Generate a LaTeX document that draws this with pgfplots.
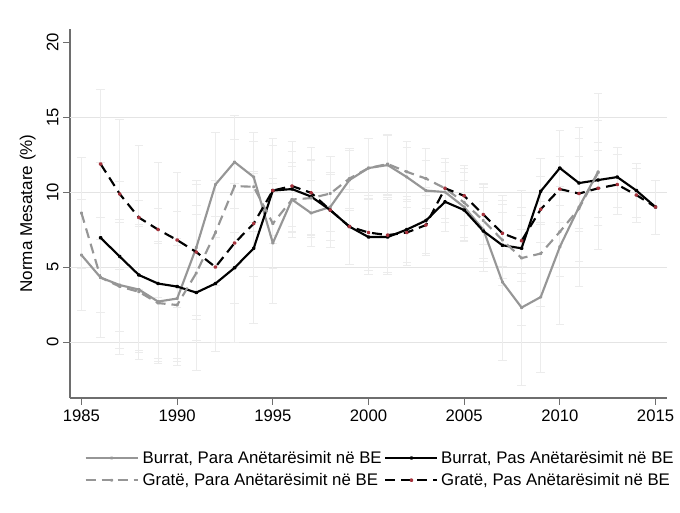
\documentclass[border=0pt]{standalone}
\usepackage{pgfplots}
\usepackage{pgfplotstable}
\pgfplotsset{compat=1.18}
\usepackage{fontspec}
\setmainfont{Liberation Sans}
\definecolor{lg}{RGB}{150,150,150}
\definecolor{eb}{RGB}{236,236,236}
\definecolor{gridc}{RGB}{228,228,228}
\definecolor{mk}{RGB}{165,50,60}
\definecolor{axc}{RGB}{110,110,110}

% Burrat, Para
\pgfplotstableread{
x y e
1985 5.8 3.7
1986 4.3 4.0
1987 3.8 4.2
1988 3.5 4.2
1989 2.7 4.0
1990 2.9 4.0
1991 6.3 4.5
1992 10.5 3.5
1993 12.0 3.1
1994 11.0 3.0
1995 6.6 4.0
1996 9.5 2.2
1997 8.6 2.2
1998 9.0 2.2
1999 10.8 2.0
2000 11.6 2.0
2001 11.8 2.0
2002 11.0 2.0
2003 10.1 2.0
2004 10.0 2.0
2005 9.0 2.3
2006 7.5 2.8
2007 4.0 5.2
2008 2.3 5.2
2009 3.0 5.0
2010 6.35 5.2
2011 9.0 5.3
2012 11.35 5.2
}\bpara
% Burrat, Pas
\pgfplotstableread{
x y e
1986 6.95 5.0
1987 5.7 5.0
1988 4.47 5.0
1989 3.9 5.0
1990 3.7 5.0
1991 3.3 5.2
1992 3.9 4.5
1993 4.95 5.0
1994 6.25 5.0
1995 10.1 3.5
1996 10.2 2.5
1997 9.7 2.5
1998 8.8 2.5
1999 7.7 2.5
2000 7.0 2.5
2001 7.0 2.5
2002 7.5 2.2
2003 8.1 2.2
2004 9.35 2.0
2005 8.8 2.0
2006 7.4 2.0
2007 6.45 2.2
2008 6.25 2.2
2009 10.05 2.2
2010 11.6 2.5
2011 10.6 3.0
2012 10.8 2.5
2013 11.0 2.0
2014 10.1 1.8
2015 9.0 1.8
}\bpas
% Grate, Para
\pgfplotstableread{
x y e
1985 8.6 3.7
1986 4.3 4.0
1987 3.7 4.5
1988 3.35 4.5
1989 2.6 4.0
1990 2.47 4.0
1991 4.6 4.5
1992 7.3 3.5
1993 10.4 3.1
1994 10.35 3.0
1995 7.9 3.0
1996 9.5 2.5
1997 9.6 2.5
1998 9.9 2.5
1999 10.9 2.0
2000 11.6 2.0
2001 11.87 2.0
2002 11.35 2.0
2003 10.9 2.0
2004 10.25 2.0
2005 9.3 2.3
2006 8.1 2.5
2007 6.8 3.0
2008 5.6 4.5
2009 5.9 3.5
2010 7.35 3.0
2011 8.9 3.5
2012 11.3 3.5
}\gpara
% Grate, Pas
\pgfplotstableread{
x y e
1986 11.87 5.0
1987 9.87 5.0
1988 8.3 4.8
1989 7.5 4.5
1990 6.8 4.5
1991 6.0 4.5
1992 5.0 5.0
1993 6.6 4.0
1994 7.9 3.5
1995 10.1 3.0
1996 10.4 3.0
1997 9.95 3.0
1998 8.8 2.5
1999 7.7 2.5
2000 7.3 2.5
2001 7.13 2.5
2002 7.3 2.2
2003 7.8 2.0
2004 10.25 2.0
2005 9.75 2.0
2006 8.5 2.0
2007 7.25 2.2
2008 6.75 2.2
2009 8.85 2.2
2010 10.2 2.2
2011 9.9 2.5
2012 10.25 2.5
2013 10.5 2.0
2014 9.8 1.8
2015 9.0 1.8
}\gpas

\pgfplotsset{
  cistyle/.style={draw=none, forget plot,
    error bars/.cd, y dir=both, y explicit,
    error bar style={draw=eb, line width=0.7pt},
    error mark options={draw=eb, rotate=90, mark size=3.2pt, line width=0.7pt}}
}

\begin{document}
\begin{tikzpicture}
\useasboundingbox (-52.5pt,-85.5pt) rectangle (457.5pt,298.5pt);
\begin{axis}[
  at={(0,0)}, anchor=south west,
  scale only axis, width=447.75pt, height=276.75pt,
  xmin=1984.4, xmax=2015.6, ymin=-3.73, ymax=20.87,
  axis x line*=bottom, axis y line*=left,
  axis line style={-, draw=axc, line width=0.8pt},
  every tick/.style={draw=axc, line width=0.7pt},
  tick align=outside, major tick length=5pt,
  xtick={1985,1990,...,2015},
  ytick={0,5,...,20},
  x tick label style={/pgf/number format/1000 sep={}, font=\fontsize{12.5}{14}\selectfont, yshift=0pt},
  y tick label style={rotate=90, anchor=south, font=\fontsize{12.5}{14}\selectfont},
  /pgf/number format/assume math mode=true,
  extra y ticks={0,5,10,15},
  extra y tick labels={},
  extra y tick style={grid=major, major tick length=0pt, grid style={draw=gridc, line width=0.8pt}},
  ylabel={Norma Mesatare (\%)},
  ylabel style={at={(axis description cs:-0.071,0.5)}, anchor=center, font=\fontsize{12.8}{14}\selectfont},
  legend style={at={(axis description cs:0.52,-0.13)}, anchor=north, draw=none, fill=none,
    font=\fontsize{12.6}{14}\selectfont, row sep=3pt, column sep=0pt,
    nodes={inner xsep=2pt, inner ysep=1.5pt}},
  legend columns=2,
  legend cell align=left,
  legend image code/.code={\draw[mark repeat=2,mark phase=2,#1] plot coordinates {(0pt,0pt) (19.5pt,0pt) (39pt,0pt)};},
  every axis plot/.append style={line join=round},
]
% confidence intervals
\addplot[cistyle] table[x=x, y=y, y error=e] {\bpara};
\addplot[cistyle] table[x=x, y=y, y error=e] {\bpas};
\addplot[cistyle] table[x=x, y=y, y error=e] {\gpara};
\addplot[cistyle] table[x=x, y=y, y error=e] {\gpas};

\addplot[lg, line width=1.6pt, mark=*, mark size=0.5pt] table[x=x,y=y] {\bpara};
\addlegendentry{\hspace{1pt}Burrat, Para Anëtarësimit në BE\hspace{4pt}}
\addplot[black, line width=1.6pt, mark=*, mark size=0.7pt] table[x=x,y=y] {\bpas};
\addlegendentry{Burrat, Pas Anëtarësimit në BE}
\addplot[lg, line width=1.6pt, dash pattern=on 7.5pt off 4.5pt, mark=*, mark size=0.5pt, mark options={solid}] table[x=x,y=y] {\gpara};
\addlegendentry{\hspace{1pt}Gratë, Para Anëtarësimit në BE\hspace{4pt}}
\addplot[black, line width=1.6pt, dash pattern=on 7.5pt off 4.5pt, mark=*, mark size=0.7pt, mark options={solid, draw=mk, fill=mk}] table[x=x,y=y] {\gpas};
\addlegendentry{Gratë, Pas Anëtarësimit në BE}
\end{axis}
\end{tikzpicture}
\end{document}
